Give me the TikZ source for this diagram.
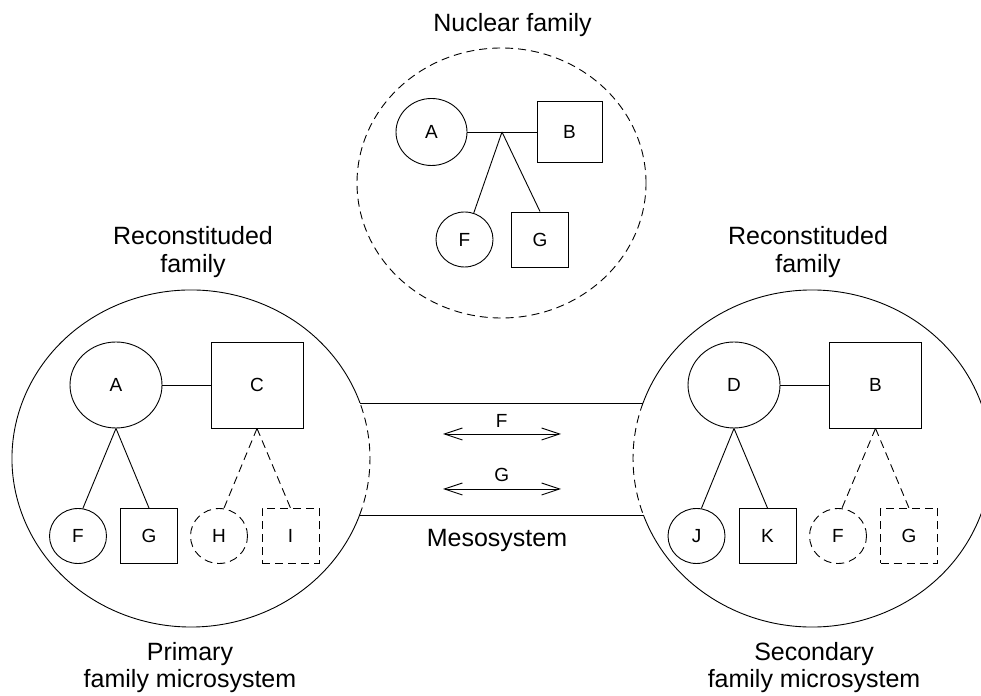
\documentclass[tikz,border=0pt]{standalone}
\usepackage{fontspec}
\setmainfont{Liberation Sans}
\usetikzlibrary{arrows.meta,shapes.geometric,calc}
\newcommand\ttlfont{\fontsize{25}{28}\selectfont}
\newcommand\pfont{\fontsize{19}{22}\selectfont}
\begin{document}
\begin{tikzpicture}[x=1pt,y=1pt,line width=0.9pt,
  dsh/.style={dash pattern=on 8pt off 5pt},
  fem/.style={draw, ellipse, inner sep=0pt, font=\pfont},
  mal/.style={draw, rectangle, inner sep=0pt, font=\pfont},
  big/.style={minimum width=92, minimum height=86},
  kid/.style={minimum width=57, minimum height=55},
  lbl/.style={align=center, font=\ttlfont, inner sep=0pt, anchor=base},
  plbl/.style={font=\pfont, inner sep=0pt, anchor=base},
  meso/.style={{Straight Barb[length=18pt,width=12pt]}-{Straight Barb[length=18pt,width=12pt]}}
]
\useasboundingbox (0,0) rectangle (981,695);
\clip (0,0) rectangle (981,695);

% ---------- Nuclear family ----------
\node[lbl] (tN) at (512.5,663) {Nuclear family};
\draw[dsh] (501.5,512) ellipse [x radius=144.5, y radius=135];
\node[fem, minimum width=71, minimum height=67] (nA) at (431.5,563) {A};
\node[mal, minimum width=65, minimum height=61] (nB) at (569.5,563) {B};
\node[fem, kid] (nF) at (464.5,455.5) {F};
\node[mal, kid] (nG) at (540,455.5) {G};
\coordinate (nJ) at (502,563);
\draw (nA) -- (nB);
\draw (nJ) -- (nF);
\draw (nJ) -- (nG.north);

% ---------- Left: primary family microsystem ----------
\coordinate (Lc) at (191,236.5);
\coordinate (ML1) at (360.0,292);
\coordinate (ML2) at (359.6,180);
\draw (ML1) arc[start angle=19.23, end angle=340.41, x radius=179, y radius=168.5];
\draw[dsh] (ML2) arc[start angle=-19.59, end angle=19.23, x radius=179, y radius=168.5];
\node[lbl] (tL) at (193,422) {Reconstituded\\family};
\node[lbl] (bL) at (190,7) {Primary\\family microsystem};

\node[fem, big] (lA) at (116,310) {A};
\node[mal, big] (lC) at (257,310) {C};
\node[fem, kid] (lF) at (78,159) {F};
\node[mal, kid] (lG) at (149,159) {G};
\node[fem, kid, dsh] (lH) at (219,159) {H};
\node[mal, kid, dsh] (lI) at (290.5,159) {I};
\draw (lA) -- (lC);
\draw (lA.south) -- (lF.80);
\draw (lA.south) -- (lG.north);
\draw[dsh] (lC.south) -- (lH.80);
\draw[dsh] (lC.south) -- (lI.north);

% ---------- Right: secondary family microsystem ----------
\coordinate (Rc) at (812,236.5);
\coordinate (MR1) at (643.0,292);
\coordinate (MR2) at (643.4,180);
\draw (MR2) arc[start angle=199.59, end angle=520.77, x radius=179, y radius=168.5];
\draw[dsh] (MR1) arc[start angle=160.77, end angle=199.59, x radius=179, y radius=168.5];
\node[lbl] (tR) at (808,422) {Reconstituded\\family};
\node[lbl] (bR) at (814,7) {Secondary\\family microsystem};

\node[fem, big] (rD) at (734,310) {D};
\node[mal, big] (rB) at (875.5,310) {B};
\node[fem, kid] (rJ) at (696.5,159) {J};
\node[mal, kid] (rK) at (767.5,159) {K};
\node[fem, kid, dsh] (rF) at (838,159) {F};
\node[mal, kid, dsh] (rG) at (909,159) {G};
\draw (rD) -- (rB);
\draw (rD.south) -- (rJ.80);
\draw (rD.south) -- (rK.north);
\draw[dsh] (rB.south) -- (rF.82);
\draw[dsh] (rB.south) -- (rG.north);

% ---------- Mesosystem ----------
\draw (ML1) -- (MR1);
\draw (ML2) -- (MR2);
\node[lbl] (tM) at (497,148) {Mesosystem};
\coordinate (aF1) at (443,261);
\coordinate (aF2) at (561,261);
\coordinate (aG1) at (443,206);
\coordinate (aG2) at (561,206);
\draw[meso] (aF1) -- (aF2);
\draw[meso] (aG1) -- (aG2);
\node[plbl] (mF) at (501.7,267) {F};
\node[plbl] (mG) at (501.7,213) {G};
\end{tikzpicture}
\end{document}
